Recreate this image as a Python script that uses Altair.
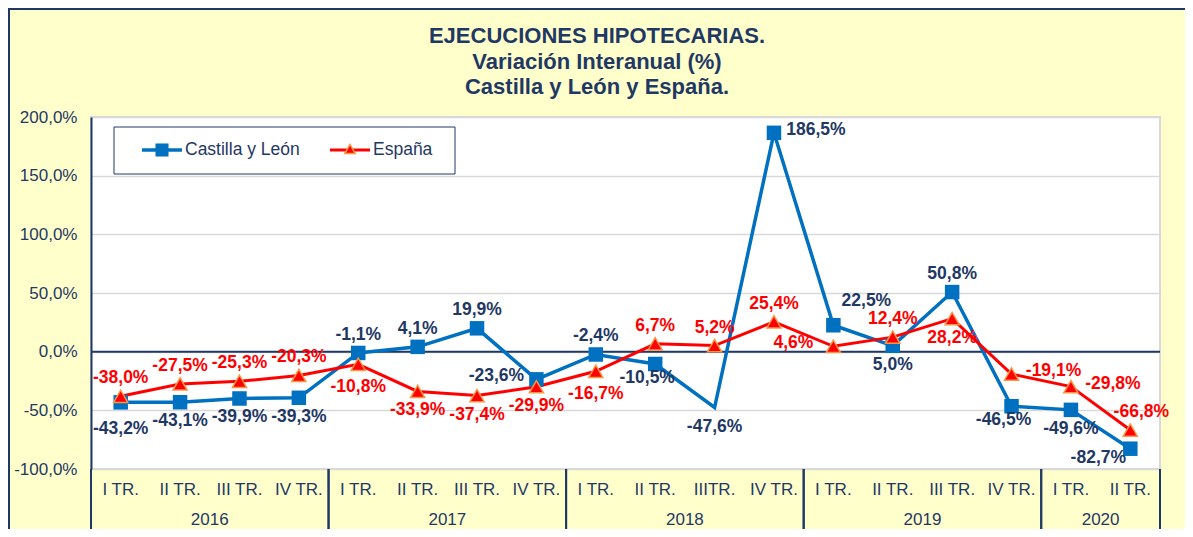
import altair as alt
import pandas as pd

# ---------------- data ----------------
quarters = ["I TR.", "II TR.", "III TR.", "IV TR.",
            "I TR.", "II TR.", "III TR.", "IV TR.",
            "I TR.", "II TR.", "IIITR.", "IV TR.",
            "I TR.", "II TR.", "III TR.", "IV TR.",
            "I TR.", "II TR."]
years = ["2016"] * 4 + ["2017"] * 4 + ["2018"] * 4 + ["2019"] * 4 + ["2020"] * 2

cyl = [-43.2, -43.1, -39.9, -39.3, -1.1, 4.1, 19.9, -23.6, -2.4, -10.5,
       -47.6, 186.5, 22.5, 5.0, 50.8, -46.5, -49.6, -82.7]
esp = [-38.0, -27.5, -25.3, -20.3, -10.8, -33.9, -37.4, -29.9, -16.7, 6.7,
       5.2, 25.4, 4.6, 12.4, 28.2, -19.1, -29.8, -66.8]

# label placement codes (t=top, b=bottom, l=left, r=right, combos)
cyl_pos = ["bb", "b", "b", "b", "t", "t", "t", "l", "t", "bL",
           "b", "r", "tr", "b", "t", "bL", "b", "bl"]
esp_pos = ["t", "t", "t", "t", "b2", "b", "b", "b", "b2", "t",
           "t", "t", "l", "t", "b", "r", "r", "tR"]
cyl_marker = [True] * 10 + [False] + [True] * 7

series_names = ["Castilla y León", "España"]
title_lines = ["EJECUCIONES HIPOTECARIAS.", "Variación Interanual (%)", "Castilla y León y España."]

# ---------------- style ----------------
NAVY = "#1F3864"
BLUE = "#0070C0"
RED = "#FF0000"
ORANGE = "#F79646"
GRID = "#D9D9D9"
BG = "#FFFFCC"
FONT = "Liberation Sans"
W, H = 1069, 352
PAD = {"left": 83, "top": 109, "right": 25, "bottom": 60}
OFFS = {"t": (0, -18), "b": (0, 19), "b2": (0, 23), "bb": (0, 27), "l": (-40, -3), "r": (42, -3),
        "tr": (33, -24), "tR": (11, -18), "bl": (-32, 9), "bL": (-8, 14)}
LBL = 17.5
AX = 17


def fmt(v):
    return f"{v:.1f}".replace(".", ",") + "%"


idx = list(range(len(quarters)))
cat_df = pd.DataFrame({"idx": idx, "quarter": quarters, "year": years})
cyl_df = pd.DataFrame({"idx": idx, "value": cyl, "label": [fmt(v) for v in cyl],
                       "pos": cyl_pos, "marker": cyl_marker})
esp_df = pd.DataFrame({"idx": idx, "value": esp, "label": [fmt(v) for v in esp],
                       "pos": esp_pos})

xscale = alt.Scale(domain=[-0.5, len(quarters) - 0.5], nice=False, zero=False)
xenc = alt.X("idx:Q", scale=xscale, axis=None)
yenc = alt.Y("value:Q", scale=alt.Scale(domain=[-100, 200], nice=False),
             axis=alt.Axis(values=[-100, -50, 0, 50, 100, 150, 200],
                           labelExpr="replace(replace(format(datum.value, '.1f'), '.', ','), '\u2212', '-') + '%'",
                           grid=True, gridColor=GRID, gridWidth=1.5,
                           domainColor=NAVY, domainWidth=2, ticks=False,
                           labelFont=FONT, labelFontSize=AX, labelColor=NAVY,
                           labelPadding=14, title=None))

one = pd.DataFrame({"a": [0]})

zero_rule = alt.Chart(pd.DataFrame({"value": [0]})).mark_rule(color=NAVY, strokeWidth=2).encode(y=yenc)

cyl_line = alt.Chart(cyl_df).mark_line(color=BLUE, strokeWidth=3.5).encode(x=xenc, y=yenc)
esp_line = alt.Chart(esp_df).mark_line(color=RED, strokeWidth=3).encode(x=xenc, y="value:Q")
cyl_pts = alt.Chart(cyl_df).transform_filter(alt.datum.marker).mark_point(
    shape="square", filled=True, size=210, color=BLUE, opacity=1).encode(x=xenc, y="value:Q")
esp_pts = alt.Chart(esp_df).mark_point(
    shape="triangle-up", filled=True, size=200, fill=RED, stroke=ORANGE, strokeWidth=1.5,
    opacity=1).encode(x=xenc, y="value:Q")


def label_layers(df, color):
    out = []
    for code in sorted(set(df["pos"])):
        dx, dy = OFFS[code]
        out.append(alt.Chart(df).transform_filter(alt.datum.pos == code).mark_text(
            dx=dx, dy=dy, font=FONT, fontSize=LBL, fontWeight="bold", color=color,
            align="center", baseline="middle").encode(x=xenc, y="value:Q", text="label:N"))
    return out


q_labels = alt.Chart(cat_df).mark_text(font=FONT, fontSize=AX, color=NAVY, baseline="middle").encode(
    x=xenc, y=alt.value(H + 21), text="quarter:N")
y_labels = alt.Chart(cat_df).transform_aggregate(mid="mean(idx)", groupby=["year"]).mark_text(
    font=FONT, fontSize=AX, color=NAVY, baseline="middle").encode(
    x=alt.X("mid:Q", scale=xscale, axis=None), y=alt.value(H + 51), text="year:N")
div_lo = alt.Chart(cat_df).transform_aggregate(lo="min(idx)", groupby=["year"]).transform_calculate(
    b="datum.lo - 0.5").mark_rule(color=NAVY, strokeWidth=2).encode(
    x=alt.X("b:Q", scale=xscale, axis=None), y=alt.value(H), y2=alt.value(H + 61))
div_hi = alt.Chart(cat_df).transform_aggregate(hi="max(idx)", groupby=["year"]).transform_calculate(
    b="datum.hi + 0.5").mark_rule(color=NAVY, strokeWidth=2).encode(
    x=alt.X("b:Q", scale=xscale, axis=None), y=alt.value(H), y2=alt.value(H + 61))

# legend (manual)
leg_box = alt.Chart(one).mark_rect(fill="white", stroke=NAVY, strokeWidth=1).encode(
    x=alt.value(23), x2=alt.value(364), y=alt.value(10), y2=alt.value(57))
leg_l1 = alt.Chart(one).mark_rule(color=BLUE, strokeWidth=3.5).encode(
    x=alt.value(51), x2=alt.value(91), y=alt.value(33))
leg_p1 = alt.Chart(one).mark_point(shape="square", filled=True, size=170, color=BLUE, opacity=1).encode(
    x=alt.value(71), y=alt.value(33))
leg_t1 = alt.Chart(one).mark_text(align="left", baseline="middle", font=FONT, fontSize=AX + 0.5,
                                  color=NAVY).encode(
    x=alt.value(94), y=alt.value(33), text=alt.value(series_names[0]))
leg_l2 = alt.Chart(one).mark_rule(color=RED, strokeWidth=3).encode(
    x=alt.value(239), x2=alt.value(279), y=alt.value(33))
leg_p2 = alt.Chart(one).mark_point(shape="triangle-up", filled=True, size=110, fill=RED, stroke=ORANGE,
                                   strokeWidth=1.5, opacity=1).encode(x=alt.value(259), y=alt.value(32))
leg_t2 = alt.Chart(one).mark_text(align="left", baseline="middle", font=FONT, fontSize=AX + 0.5,
                                  color=NAVY).encode(
    x=alt.value(282), y=alt.value(33), text=alt.value(series_names[1]))

# title lines (drawn as text in the top padding)
title_marks = [
    alt.Chart(one).mark_text(font=FONT, fontSize=22, fontWeight="bold", color=NAVY,
                             align="center", baseline="middle").encode(
        x=alt.value(506), y=alt.value(ty), text=alt.value(t))
    for t, ty in zip(title_lines, [-81, -55, -30])
]

# outer border
border_left = alt.Chart(one).mark_rule(color=NAVY, strokeWidth=2).encode(
    x=alt.value(-82), y=alt.value(-PAD["top"] + 1), y2=alt.value(H + PAD["bottom"]))
border_top = alt.Chart(one).mark_rule(color=NAVY, strokeWidth=2).encode(
    x=alt.value(-PAD["left"]), x2=alt.value(W + PAD["right"]), y=alt.value(-PAD["top"] + 1))

layers = [zero_rule, cyl_line, esp_line, cyl_pts, esp_pts] \
    + label_layers(cyl_df, NAVY) + label_layers(esp_df, RED) \
    + [q_labels, y_labels, div_lo, div_hi,
       leg_box, leg_l1, leg_p1, leg_t1, leg_l2, leg_p2, leg_t2,
       border_left, border_top] + title_marks

chart = alt.layer(*layers).properties(
    width=W, height=H,
    padding=PAD,
    autosize=alt.AutoSizeParams(type="none"),
    background=BG,
).configure_view(stroke=GRID, strokeWidth=2, fill="white")

chart.save("out.html", embed_options={"renderer": "svg", "actions": False})
